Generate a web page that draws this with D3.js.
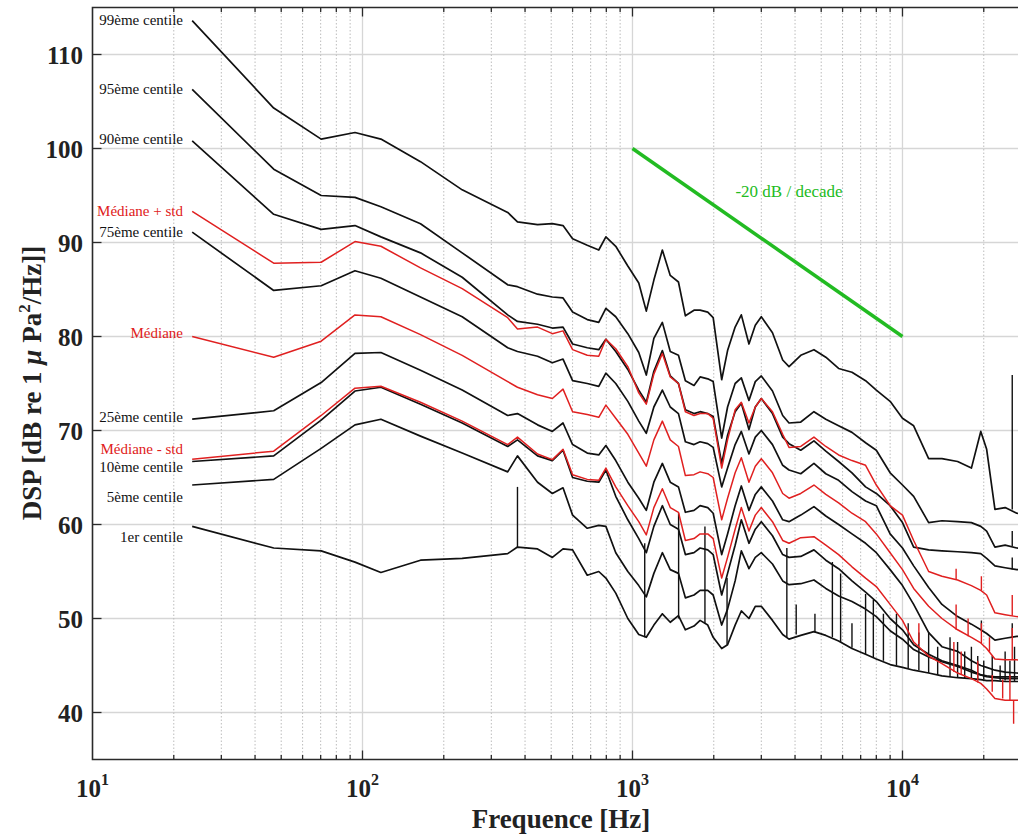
<!DOCTYPE html>
<html>
<head>
<meta charset="utf-8">
<script src="https://cdn.jsdelivr.net/npm/d3@7"></script>
<style>
  body { margin: 0; background: #fff; }
  text { font-family: "Liberation Serif", "Times New Roman", serif; }
</style>
</head>
<body>
<div id="chart"></div>
<script>
// frequency grid [Hz] shared by all percentile curves
const freqs = [23.4, 46.9, 70.3, 93.8, 117, 164, 234, 345, 375, 445, 505, 553, 600, 680, 750, 797, 867, 961,
  1055, 1125, 1200, 1290, 1380, 1480, 1570, 1690, 1780, 1900, 1990, 2140, 2250, 2400, 2530, 2700, 2850, 3000,
  3300, 3600, 3800, 4200, 4700, 5200, 5800, 6500, 7300, 8000, 9000, 10000, 11000, 12500, 14000, 16000, 18000,
  19500, 20500, 22000, 24000, 26500, 30000];

// DSP values [dB re 1 uPa^2/Hz]
const p99 = [113.6, 104.3, 101.0, 101.7, 101.0, 98.6, 95.6, 93.2, 92.2, 91.9, 92.0, 91.8, 90.4, 89.7, 89.2, 90.6, 89.6, 87.5,
  85.7, 82.7, 86.0, 89.2, 86.5, 85.8, 82.2, 82.8, 82.8, 82.6, 82.0, 75.4, 78.5, 81.0, 82.3, 79.2, 81.2, 82.1,
  80.4, 77.5, 76.8, 78.0, 78.6, 77.8, 76.6, 76.2, 75.3, 74.3, 73.1, 71.3, 70.5, 67.0, 67.0, 66.7, 66.0,
  69.9, 68.0, 61.6, 61.8, 61.2, 61.0];
const p95 = [106.3, 97.8, 95.0, 94.8, 93.8, 92.0, 88.9, 85.5, 85.3, 84.5, 84.2, 84.1, 82.6, 81.8, 81.5, 83.0, 82.1, 80.3,
  78.3, 75.9, 79.8, 81.5, 78.4, 78.0, 75.3, 74.8, 75.7, 75.5, 75.2, 69.2, 72.5, 75.0, 75.6, 73.2, 75.2, 75.8,
  74.2, 71.6, 70.8, 70.9, 72.0, 71.2, 70.5, 69.8, 68.7, 67.9, 65.5, 64.2, 63.0, 60.2, 60.4, 60.3, 60.2,
  59.8, 59.3, 57.6, 57.8, 57.5, 57.4];
const p90 = [100.8, 93.0, 91.4, 91.8, 90.6, 88.9, 86.3, 82.3, 81.6, 81.3, 80.9, 81.0, 79.2, 78.8, 78.6, 79.7, 78.4, 76.5,
  74.3, 73.0, 76.3, 78.5, 75.8, 75.0, 72.2, 71.8, 72.0, 71.8, 71.5, 66.5, 69.5, 72.0, 72.9, 70.1, 72.5, 73.4,
  71.8, 69.3, 68.6, 67.9, 68.9, 67.8, 66.7, 65.5, 64.0, 63.3, 62.0, 60.2, 57.6, 57.3, 57.2, 57.1, 57.0,
  56.9, 56.4, 55.6, 55.4, 55.2, 55.1];
const medPlusStd = [93.3, 87.8, 87.9, 90.1, 89.6, 87.3, 85.1, 82.0, 80.8, 81.0, 80.3, 80.6, 78.6, 78.0, 77.9, 79.7, 78.7, 76.8,
  74.0, 72.8, 76.0, 78.2, 75.7, 75.0, 72.0, 71.6, 71.8, 71.8, 71.3, 66.0, 69.0, 72.2, 73.0, 70.8, 72.5, 73.4,
  72.0, 69.6, 68.2, 68.3, 69.3, 68.3, 67.4, 66.8, 66.3, 64.2, 62.0, 61.0, 58.3, 55.0, 54.5, 54.1, 53.5,
  53.0, 52.5, 50.6, 50.4, 50.2, 50.1];
const p75 = [91.1, 84.9, 85.4, 87.0, 86.2, 84.2, 82.1, 78.8, 78.4, 77.9, 77.2, 77.6, 75.3, 75.0, 74.7, 76.1, 75.0, 73.1,
  71.0, 69.7, 72.5, 74.3, 72.5, 71.8, 68.8, 68.5, 68.8, 68.6, 68.2, 64.0, 66.0, 68.5, 69.9, 67.5, 69.3, 70.0,
  68.5, 66.3, 65.8, 65.4, 66.5, 65.4, 64.7, 63.5, 62.5, 62.0, 59.0, 57.5, 55.6, 53.3, 51.5, 50.2, 49.4,
  48.8, 48.4, 47.7, 47.9, 48.1, 48.0];
const median = [80.0, 77.8, 79.5, 82.3, 82.1, 80.2, 78.0, 75.2, 74.6, 73.8, 73.4, 74.4, 72.0, 71.7, 71.4, 72.7, 71.3, 69.6,
  67.6, 66.2, 69.0, 71.0, 69.0, 68.3, 65.2, 65.3, 65.6, 65.4, 65.0, 60.5, 62.8, 65.5, 67.1, 64.5, 66.2, 67.0,
  65.5, 63.3, 62.8, 63.3, 64.2, 63.2, 62.3, 61.2, 60.3, 59.0, 57.0, 55.2, 53.2, 51.3, 50.0, 48.8, 48.0,
  47.4, 46.8, 45.7, 45.6, 45.6, 45.5];
const p25 = [71.2, 72.1, 75.1, 78.2, 78.3, 76.4, 74.3, 71.6, 71.8, 70.6, 69.9, 70.8, 68.5, 67.6, 67.4, 68.4, 66.8, 64.5,
  62.8, 61.5, 64.5, 66.5, 64.5, 64.0, 61.3, 61.5, 62.0, 61.8, 61.2, 56.8, 59.0, 62.0, 64.1, 61.5, 63.2, 64.0,
  62.5, 60.5, 60.3, 61.0, 61.9, 60.9, 60.0, 59.0, 58.0, 57.0, 55.2, 53.5, 51.5, 48.5, 47.0, 46.5, 45.5,
  45.0, 44.8, 44.5, 44.3, 44.2, 44.1];
const medMinusStd = [66.95, 67.8, 71.6, 74.5, 74.7, 73.0, 71.0, 68.5, 69.3, 67.5, 66.9, 68.0, 65.3, 64.8, 64.7, 66.0, 64.0, 62.0,
  60.3, 58.9, 61.8, 63.8, 61.8, 61.3, 58.3, 58.5, 59.0, 59.0, 58.5, 54.3, 56.5, 59.5, 61.8, 59.3, 61.0, 61.8,
  60.3, 58.3, 58.0, 58.6, 58.7, 57.8, 56.8, 55.5, 54.3, 53.4, 51.5, 49.8, 47.5, 46.0, 45.2, 44.2, 43.6,
  43.1, 42.5, 41.5, 41.3, 41.3, 41.2];
const p10 = [66.7, 67.3, 71.1, 74.2, 74.6, 72.8, 70.8, 68.3, 69.0, 67.3, 66.8, 67.9, 65.0, 64.6, 64.5, 65.8, 63.0, 60.5,
  58.5, 57.0, 59.8, 62.0, 60.0, 59.5, 56.8, 57.0, 57.5, 57.3, 56.8, 52.5, 54.8, 57.8, 60.5, 58.0, 59.5, 60.3,
  58.8, 56.8, 56.5, 56.6, 57.3, 56.2, 55.3, 54.0, 52.8, 51.8, 50.0, 48.8, 47.2, 46.2, 45.5, 45.0, 44.5,
  44.0, 43.9, 43.8, 43.8, 43.8, 43.8];
const p05 = [64.2, 64.8, 68.1, 70.6, 71.2, 69.4, 67.6, 65.6, 67.3, 64.5, 63.3, 63.9, 61.0, 59.6, 59.9, 59.8, 57.0, 55.0,
  53.5, 52.3, 54.8, 57.0, 55.2, 54.8, 52.2, 52.5, 53.0, 53.0, 52.5, 49.3, 51.0, 54.0, 57.2, 55.3, 56.5, 57.0,
  55.8, 54.0, 53.6, 53.7, 54.1, 53.2, 52.4, 51.8, 51.0, 50.2, 48.7, 47.8, 46.7, 45.9, 45.4, 44.9, 44.3,
  44.0, 43.8, 43.7, 43.6, 43.6, 43.6];
const p01 = [59.8, 57.5, 57.2, 56.0, 54.9, 56.2, 56.4, 56.9, 57.6, 57.4, 56.5, 57.4, 57.3, 54.6, 55.0, 54.3, 52.7, 50.0,
  48.3, 48.0, 49.3, 50.5, 49.6, 50.3, 48.8, 49.2, 49.8, 49.3, 48.0, 46.8, 47.2, 49.3, 50.8, 50.0, 51.3, 51.3,
  49.8, 48.3, 47.8, 48.2, 48.6, 48.2, 47.6, 46.8, 46.2, 45.7, 45.1, 44.8, 44.5, 44.2, 43.9, 43.7, 43.6,
  43.5, 43.4, 43.4, 43.3, 43.3, 43.3];

// narrow tonal lines: [freq, from dB, to dB]
const spikes99 = [[25500, 61.6, 75.9]];
const spikes95 = [[25500, 57.7, 59.3]];
const spikes90 = [[25500, 55.2, 56.5]];
const spikes75 = [[19600, 48.8, 49.8], [25500, 48.0, 49.5]];
const spikesMedPlus = [[15800, 54.1, 55.3], [19600, 53.0, 54.5], [25500, 50.3, 52.5]];
const spikesMed = [[15800, 48.8, 51.5], [17500, 48.1, 50.0], [19600, 47.4, 49.5], [21000, 46.5, 48.0], [25500, 45.6, 49.0]];
const spikesMedMinus = [[11500, 47.3, 49.5], [15500, 44.3, 47.5], [16500, 44.0, 46.5], [19000, 43.2, 45.5],
  [21500, 42.2, 44.0], [23500, 41.5, 43.5], [25000, 41.3, 44.0], [25800, 41.3, 38.8]];
const spikesLow = [[375, 57.5, 64.0], [1110, 48.0, 58.0], [1482, 50.0, 61.2], [1855, 49.5, 59.8], [2240, 47.2, 54.3],
  [3730, 48.0, 57.5], [4040, 48.3, 51.5], [4740, 48.5, 50.5], [5500, 48.0, 56.0], [5900, 47.5, 54.8],
  [6500, 46.9, 49.5], [7300, 46.2, 52.6], [7800, 45.9, 52.0], [8500, 45.5, 50.5], [9500, 45.0, 50.5],
  [10500, 44.7, 49.5], [11500, 44.5, 48.5], [12500, 44.2, 48.5], [13500, 44.0, 47.0], [15000, 43.8, 48.0],
  [16000, 43.7, 47.5], [17000, 43.6, 46.5], [18000, 43.6, 47.0], [19000, 43.5, 46.0], [20000, 43.5, 45.5],
  [21500, 43.4, 46.0], [23000, 43.4, 45.0], [24000, 43.4, 46.5], [25000, 43.3, 45.5], [26000, 43.3, 47.0],
  [27000, 43.3, 45.5]];

const labelNames = ["99ème centile", "95ème centile", "90ème centile", "Médiane + std", "75ème centile", "Médiane",
  "25ème centile", "Médiane - std", "10ème centile", "5ème centile", "1er centile"];
const labelDb = [113.6, 106.3, 101.0, 93.3, 91.1, 80.3, 71.4, 68.0, 66.1, 62.9, 58.6];

const slopeLine = [[1000, 100], [10000, 80]];
const slopeText = "-20 dB / decade";

const W = 1018, H = 835;
const black = "#111", red = "#e02020", green = "#22bb22";

const x = d3.scaleLog().domain([10, 30000]).range([92.5, 1031.3]);
const y = d3.scaleLinear().domain([35, 115]).range([759.5, 7.5]);

const svg = d3.select("#chart").append("svg")
    .attr("width", W)
    .attr("height", H);
svg.append("rect").attr("width", W).attr("height", H).attr("fill", "#fff");

const decades = [10, 100, 1000, 10000];
let minors = [];
decades.forEach(function(d) {
    for (let k = 2; k <= 9; k++) if (d * k <= 30000) minors.push(d * k);
});
const yTicks = d3.range(40, 111, 10);

// grid
let grid = svg.append("g");
grid.selectAll("line.h").data(yTicks).enter().append("line")
    .attr("x1", x(10)).attr("x2", x(30000))
    .attr("y1", d => y(d)).attr("y2", d => y(d))
    .attr("stroke", "#d6d6d6").attr("stroke-width", 1.3);
grid.selectAll("line.v").data(decades.slice(1)).enter().append("line")
    .attr("x1", d => x(d)).attr("x2", d => x(d))
    .attr("y1", y(35)).attr("y2", y(115))
    .attr("stroke", "#d6d6d6").attr("stroke-width", 1.3);
grid.selectAll("line.m").data(minors).enter().append("line")
    .attr("x1", d => x(d)).attr("x2", d => x(d))
    .attr("y1", y(35)).attr("y2", y(115))
    .attr("stroke", "#bcbcbc").attr("stroke-width", 1)
    .attr("stroke-dasharray", "1.5,2");

// curves
svg.append("clipPath").attr("id", "plot")
    .append("rect").attr("x", x(10)).attr("y", y(115))
    .attr("width", x(30000) - x(10)).attr("height", y(35) - y(115));
let plot = svg.append("g").attr("clip-path", "url(#plot)");

const line = d3.line().x(d => x(d[0])).y(d => y(d[1]));

const blackSeries = [[p99, spikes99], [p95, spikes95], [p90, spikes90], [p75, spikes75], [p25, []], [p10, []], [p05, []], [p01, spikesLow]];
const redSeries = [[medPlusStd, spikesMedPlus], [median, spikesMed], [medMinusStd, spikesMedMinus]];

function drawSeries(list, color, width) {
    list.forEach(function(s) {
        plot.append("path")
            .datum(freqs.map((f, i) => [f, s[0][i]]))
            .attr("d", line)
            .attr("fill", "none")
            .attr("stroke", color)
            .attr("stroke-width", width)
            .attr("stroke-linejoin", "round");
        plot.selectAll(null).data(s[1]).enter().append("line")
            .attr("x1", d => x(d[0])).attr("x2", d => x(d[0]))
            .attr("y1", d => y(d[1])).attr("y2", d => y(d[2]))
            .attr("stroke", color)
            .attr("stroke-width", 1.4);
    });
}
drawSeries(blackSeries, black, 1.7);
drawSeries(redSeries, red, 1.5);

// -20 dB / decade reference
plot.append("path").datum(slopeLine).attr("d", line)
    .attr("stroke", green).attr("stroke-width", 3.5).attr("fill", "none");
svg.append("text")
    .attr("x", 789).attr("y", 197)
    .attr("text-anchor", "middle")
    .attr("font-size", 17)
    .attr("fill", green)
    .text(slopeText);

// curve labels
svg.append("g").selectAll("text").data(labelNames).enter().append("text")
    .attr("x", 183)
    .attr("y", (d, i) => y(labelDb[i]) + 4.5)
    .attr("text-anchor", "end")
    .attr("font-size", 15)
    .attr("fill", d => d.startsWith("Médiane") ? red : black)
    .text(d => d);

// frame
svg.append("path")
    .attr("d", `M${x(30000)},${y(35)}H${x(10)}V${y(115)}H${x(30000)}`)
    .attr("fill", "none").attr("stroke", "#2a2a2a").attr("stroke-width", 1.6);

// ticks
let ticks = svg.append("g").attr("stroke", "#2a2a2a").attr("stroke-width", 1.3);
ticks.selectAll("line.yt").data(yTicks).enter().append("line")
    .attr("x1", x(10)).attr("x2", x(10) + 9)
    .attr("y1", d => y(d)).attr("y2", d => y(d));
[[y(35), -1], [y(115), 1]].forEach(function(side) {
    ticks.selectAll(null).data(decades.slice(1)).enter().append("line")
        .attr("x1", d => x(d)).attr("x2", d => x(d))
        .attr("y1", side[0]).attr("y2", side[0] + side[1] * 9);
    ticks.selectAll(null).data(minors).enter().append("line")
        .attr("x1", d => x(d)).attr("x2", d => x(d))
        .attr("y1", side[0]).attr("y2", side[0] + side[1] * 4.5);
});

// tick labels
svg.append("g").selectAll("text").data(yTicks).enter().append("text")
    .attr("x", 83).attr("y", d => y(d) + 9)
    .attr("text-anchor", "end")
    .attr("font-size", 25).attr("font-weight", "bold").attr("fill", "#222")
    .text(d => d);

let xl = svg.append("g").selectAll("text").data(decades).enter().append("text")
    .attr("x", d => x(d)).attr("y", 797)
    .attr("text-anchor", "middle")
    .attr("font-size", 25).attr("font-weight", "bold").attr("fill", "#222");
xl.append("tspan").text("10");
xl.append("tspan").attr("dy", -12).attr("font-size", 16).text(d => Math.round(Math.log10(d)));

// axis titles
svg.append("text")
    .attr("x", 561).attr("y", 828)
    .attr("text-anchor", "middle")
    .attr("font-size", 27).attr("font-weight", "bold").attr("fill", "#222")
    .text("Frequence [Hz]");

let yt = svg.append("text")
    .attr("transform", "translate(41, 383) rotate(-90)")
    .attr("text-anchor", "middle")
    .attr("font-size", 27).attr("font-weight", "bold").attr("fill", "#222");
yt.append("tspan").text("DSP [dB re 1 ");
yt.append("tspan").attr("font-style", "italic").text("μ");
yt.append("tspan").text(" Pa");
yt.append("tspan").attr("dy", -11).attr("font-size", 17).text("2");
yt.append("tspan").attr("dy", 11).text("/Hz]]");
</script>
</body>
</html>
